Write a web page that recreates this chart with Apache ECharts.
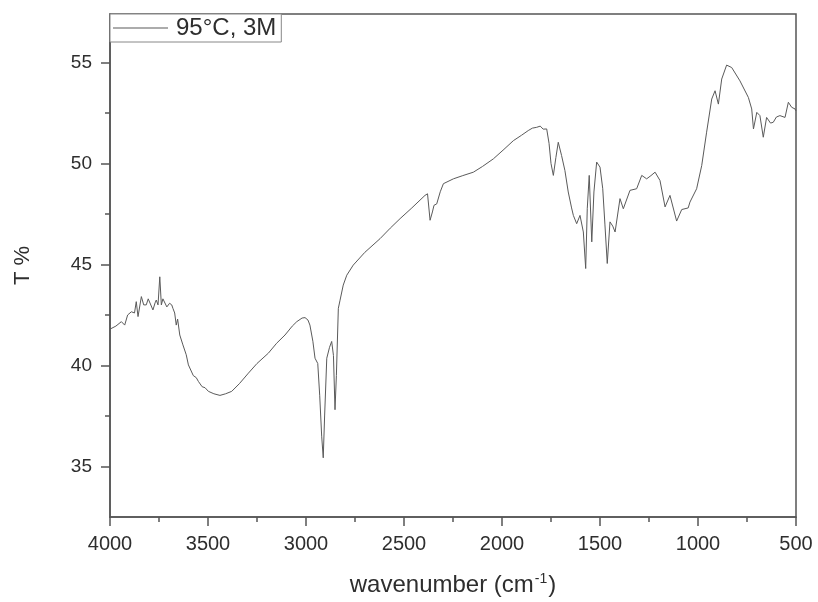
<!DOCTYPE html>
<html>
<head>
<meta charset="utf-8">
<script src="https://cdn.jsdelivr.net/npm/echarts@6/dist/echarts.min.js"></script>
<style>html,body{margin:0;padding:0;background:#fff}#c{width:818px;height:602px}</style>
</head>
<body>
<div id="c"></div>
<script>
const seriesName = '95\u00B0C, 3M';
const wavenumbers = [4000,3991,3970,3942,3925,3910,3891,3875,3866,3857,3840,3828,3815,3805,3797,3781,3770,3764,3755,3746,3738,3730,3721,3710,3696,3685,3679,3670,3662,3655,3644,3635,3628,3618,3611,3600,3590,3575,3560,3549,3530,3515,3498,3470,3439,3410,3379,3340,3294,3250,3192,3150,3107,3070,3047,3020,3005,2990,2980,2965,2954,2940,2930,2920,2912,2905,2894,2880,2869,2860,2852,2845,2835,2827,2810,2792,2759,2700,2622,2570,2520,2460,2393,2380,2367,2355,2347,2333,2315,2299,2248,2200,2146,2100,2044,1990,1942,1900,1866,1845,1823,1805,1790,1772,1760,1750,1738,1725,1713,1696,1679,1662,1645,1636,1619,1602,1585,1573,1565,1555,1542,1531,1517,1500,1486,1475,1463,1449,1435,1423,1398,1381,1347,1313,1287,1262,1240,1219,1194,1168,1143,1109,1083,1050,1041,1007,981,956,930,913,896,879,854,828,786,743,726,717,700,684,667,650,630,616,600,582,556,539,522,505,500];
const transmittance = [41.8,41.84,41.95,42.17,42.0,42.5,42.66,42.6,43.16,42.42,43.41,43.0,43.0,43.3,43.24,42.75,43.1,43.24,43.0,44.39,43.0,43.3,43.24,42.9,43.08,43.0,42.83,42.6,42.0,42.3,41.51,41.6,41.02,41.1,40.53,40.03,40.0,39.5,39.4,39.21,38.95,38.9,38.72,38.6,38.52,38.6,38.72,39.1,39.62,40.1,40.61,41.1,41.51,41.95,42.17,42.35,42.37,42.25,42.0,41.2,40.36,40.1,38.5,36.5,35.43,37.5,40.36,40.9,41.19,40.5,37.81,39.5,42.83,43.2,43.98,44.47,44.97,45.6,46.28,46.8,47.27,47.8,48.42,48.5,47.19,47.6,47.93,48.0,48.6,49.0,49.24,49.4,49.57,49.85,50.23,50.7,51.13,51.4,51.63,51.75,51.79,51.85,51.7,51.71,51.0,50.0,49.41,50.3,51.05,50.39,49.65,48.59,47.8,47.43,47.02,47.43,46.61,44.8,47.76,49.41,46.12,48.59,50.07,49.82,48.75,47.0,45.05,47.11,46.9,46.61,48.26,47.76,48.67,48.75,49.41,49.24,49.4,49.57,49.16,47.85,48.42,47.15,47.72,47.8,48.09,48.75,49.9,51.55,53.19,53.6,52.94,54.18,54.87,54.75,54.09,53.27,52.7,51.71,52.53,52.37,51.3,52.28,52.0,52.04,52.3,52.37,52.28,53.03,52.78,52.7,52.6];
const yTickValues = [35, 40, 45, 50, 55];
const yMinorTickValues = [37.5, 42.5, 47.5, 52.5];
const xAxisTitle = 'wavenumber (cm{sup|-1})';
const yAxisTitle = 'T %';

const data = wavenumbers.map((w, i) => [w, transmittance[i]]);
const font = 'Liberation Sans, Arial, sans-serif';
const axisColor = '#555';
const textColor = '#2e2e2e';

const chart = echarts.init(document.getElementById('c'), null, {renderer: 'canvas'});
chart.setOption({
  animation: false,
  backgroundColor: '#fff',
  grid: {left: 110, right: 22, top: 14, bottom: 83, show: true, borderColor: axisColor, borderWidth: 1.5, containLabel: false},
  legend: {
    left: 110, top: 14,
    padding: [2, 5, 2, 3],
    itemWidth: 55, itemHeight: 1,
    icon: 'rect',
    borderColor: '#888', borderWidth: 1,
    backgroundColor: '#fff',
    textStyle: {fontFamily: font, fontSize: 24, color: textColor, padding: [0, 0, 0, 3]},
    data: [seriesName]
  },
  xAxis: {
    type: 'value', inverse: true, min: 500, max: 4000, interval: 500,
    name: xAxisTitle, nameLocation: 'middle', nameGap: 55,
    nameTextStyle: {fontFamily: font, fontSize: 24, color: textColor,
      rich: {sup: {fontFamily: font, fontSize: 14, color: textColor, verticalAlign: 'top', padding: [0, 1, 12, 1]}}},
    axisLine: {show: true, lineStyle: {color: axisColor, width: 1.5}},
    axisTick: {show: true, inside: false, length: 9, lineStyle: {color: axisColor, width: 1.5}},
    minorTick: {show: true, splitNumber: 2, length: 5, lineStyle: {color: axisColor, width: 1.5}},
    axisLabel: {fontFamily: font, fontSize: 20, color: textColor, margin: 17, formatter: v => String(v)},
    splitLine: {show: false}
  },
  yAxis: [{
    type: 'value', min: 32.5, max: 57.4,
    name: yAxisTitle, nameLocation: 'middle', nameGap: 76, nameRotate: 90,
    nameTextStyle: {fontFamily: font, fontSize: 22, color: textColor},
    axisLine: {show: true, lineStyle: {color: axisColor, width: 1.5}},
    axisTick: {show: true, inside: false, length: 9, customValues: yTickValues, lineStyle: {color: axisColor, width: 1.5}},
    axisLabel: {fontFamily: font, fontSize: 19, color: textColor, margin: 18, customValues: yTickValues},
    splitLine: {show: false}
  }, {
    type: 'value', min: 32.5, max: 57.4, position: 'left',
    axisLine: {show: false},
    axisTick: {show: true, inside: false, length: 5, customValues: yMinorTickValues, lineStyle: {color: axisColor, width: 1.5}},
    axisLabel: {show: false},
    splitLine: {show: false}
  }],
  series: [{
    name: seriesName, type: 'line', data: data, yAxisIndex: 0,
    showSymbol: false, symbol: 'none',
    lineStyle: {color: '#5a5a5a', width: 1},
    itemStyle: {color: '#5a5a5a'}
  }]
});
</script>
</body>
</html>
